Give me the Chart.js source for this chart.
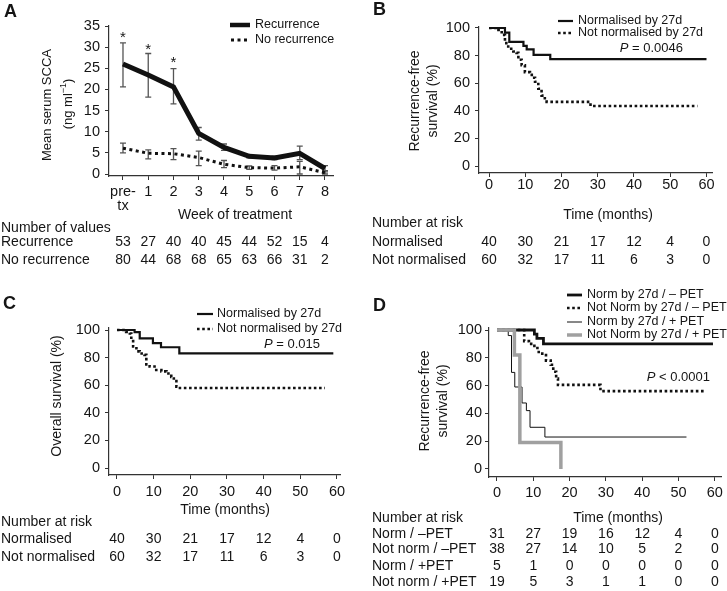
<!DOCTYPE html>
<html>
<head>
<meta charset="utf-8">
<script src="https://cdn.jsdelivr.net/npm/chart.js@4.4.1/dist/chart.umd.min.js"></script>
<style>
  body { margin: 0; background: #fff; width: 727px; height: 591px; position: relative; overflow: hidden; }
  canvas { position: absolute; }
</style>
</head>
<body>
<canvas id="cA" width="360" height="290" style="left:0;top:0"></canvas>
<canvas id="cB" width="367" height="290" style="left:360px;top:0"></canvas>
<canvas id="cC" width="360" height="311" style="left:0;top:280px"></canvas>
<canvas id="cD" width="367" height="311" style="left:360px;top:280px"></canvas>
<script>
// ---- panel A: serum SCCA by week ----
const weekLabels = [['pre-', 'tx'], '1', '2', '3', '4', '5', '6', '7', '8'];
const recurrenceMean = [26.0, 23.4, 20.6, 9.6, 6.3, 4.2, 3.8, 4.9, 1.3];
const recurrenceLow = [20.6, 18.2, 16.6, 8.0, 5.6, 3.8, 3.4, 3.4, 0.5];
const recurrenceHigh = [31.0, 28.5, 24.9, 11.0, 7.1, 4.6, 4.2, 6.6, 2.0];
const noRecMean = [6.1, 4.9, 4.8, 3.9, 2.3, 1.5, 1.4, 1.7, 0.3];
const noRecLow = [5.0, 3.6, 3.4, 2.0, 1.5, 1.1, 0.9, 0.0, 0.0];
const noRecHigh = [7.3, 5.7, 6.0, 5.4, 3.2, 1.9, 2.0, 3.0, 0.8];
const starWeeks = [0, 1, 2];
const starLevels = [33.2, 30.3, 27.3];
const recurrenceN = [53, 27, 40, 40, 45, 44, 52, 15, 4];
const noRecN = [80, 44, 68, 68, 65, 63, 66, 31, 2];
const aYTicks = [0, 5, 10, 15, 20, 25, 30, 35];

// ---- Kaplan-Meier panels ----
const kmXTicks = [0, 10, 20, 30, 40, 50, 60];
const kmYTicks = [0, 20, 40, 60, 80, 100];

const bNormTime = [0, 4.4, 5.6, 9.5, 10.4, 12.3, 16.9, 60];
const bNormSurv = [100, 96.6, 90, 87, 84.5, 80.5, 77.5, 77.5];
const bNotTime = [0, 2.6, 3.5, 4.4, 5.3, 6.7, 7.6, 8.1, 9.0, 9.9, 11.3, 11.8, 12.7, 13.6, 14.5, 15.4, 15.9, 28.0, 57.5];
const bNotSurv = [100, 98.5, 95, 89, 85, 83, 82, 77, 73, 68, 67, 64, 61, 56, 51, 48, 46.5, 43.5, 43.5];
const bRiskNorm = [40, 30, 21, 17, 12, 4, 0];
const bRiskNot = [60, 32, 17, 11, 6, 3, 0];

const cNormTime = [0, 4.8, 6.2, 9.8, 12.0, 17.0, 59];
const cNormSurv = [100, 98.5, 94, 90.5, 87.5, 83, 83];
const cNotTime = [0, 2.5, 3.5, 3.9, 4.4, 5.3, 6.2, 7.5, 8.0, 8.9, 10.7, 12.1, 13.5, 14.8, 15.5, 16.2, 16.6, 56.7];
const cNotSurv = [100, 98.5, 97.5, 93, 88, 84.5, 83, 82, 75, 73.5, 71, 70, 68.5, 66, 63, 59, 58, 58];
const cRiskNorm = [40, 30, 21, 17, 12, 4, 0];
const cRiskNot = [60, 32, 17, 11, 6, 3, 0];

const dNormNegTime = [0, 10.3, 11.0, 12.8, 59.5];
const dNormNegSurv = [100, 97, 94, 90, 90];
const dNotNegTime = [0, 7.5, 8.8, 10.3, 11.5, 13.5, 14.8, 15.5, 16.3, 16.8, 28.5, 57.3];
const dNotNegSurv = [100, 92, 90, 87, 83, 78, 75, 70, 65, 60.5, 56, 56];
const dNormPosTime = [0, 3.1, 4.0, 4.9, 6.9, 8.1, 9.1, 13.2, 52.2];
const dNormPosSurv = [100, 96, 69.5, 59, 47.5, 42, 30, 23, 23];
const dNotPosTime = [0, 4.8, 6.3, 17.6];
const dNotPosSurv = [100, 82, 19, 0];
const dRiskNormNeg = [31, 27, 19, 16, 12, 4, 0];
const dRiskNotNeg = [38, 27, 14, 10, 5, 2, 0];
const dRiskNormPos = [5, 1, 0, 0, 0, 0, 0];
const dRiskNotPos = [19, 5, 3, 1, 1, 0, 0];

const FONT = '"Liberation Sans", Arial, Helvetica, sans-serif';
const INK = '#151515';
const AXIS = '#333';

const sRec = { color: '#111', width: 5, dash: [] };
const sNoRec = { color: '#111', width: 3, dash: [3, 3.5] };
const sSolid = { color: '#111', width: 2.2, dash: [] };
const sDot = { color: '#111', width: 2.6, dash: [2.6, 2.6] };
const sThick = { color: '#111', width: 2.8, dash: [] };
const sThin = { color: '#111', width: 1, dash: [] };
const sGrey = { color: '#a0a0a0', width: 3.5, dash: [] };

function points(xs, ys) {
  return xs.map((x, i) => ({ x: x, y: ys[i] }));
}

function lineSet(xs, ys, st, stepped) {
  return {
    data: points(xs, ys),
    borderColor: st.color,
    borderWidth: st.width,
    borderDash: st.dash,
    stepped: stepped,
    tension: 0,
    pointRadius: 0,
    fill: false
  };
}

function axisOpts(min, max, ticks, extent, isX, pad, labels, lh) {
  return {
    type: 'linear',
    min: min,
    max: max,
    afterFit: s => { if (isX) s.height = extent; else s.width = extent; },
    afterBuildTicks: s => { s.ticks = ticks.map(v => ({ value: v })); },
    grid: { display: true, drawOnChartArea: false, drawTicks: true, tickLength: 4, color: AXIS, lineWidth: 1 },
    border: { display: true, color: AXIS, width: 1.2 },
    ticks: {
      color: INK, padding: pad, autoSkip: false, maxRotation: 0,
      font: { family: FONT, size: 14.5, lineHeight: lh || 1.15 },
      callback: (v, i) => labels ? labels[i] : String(v)
    }
  };
}

function drawRich(ctx, parts, x, y, align) {
  let w = 0;
  parts.forEach(p => { ctx.font = p.font; w += ctx.measureText(p.t).width; });
  let cx = align === 'right' ? x - w : align === 'center' ? x - w / 2 : x;
  ctx.textAlign = 'left';
  parts.forEach(p => {
    ctx.font = p.font;
    ctx.fillText(p.t, cx, y + (p.dy || 0));
    cx += ctx.measureText(p.t).width;
  });
}

function panelPlugin(p) {
  return {
    id: 'panel' + p.letter,
    beforeDatasetsDraw(chart) {
      if (!p.errorBars) return;
      const ctx = chart.ctx, xs = chart.scales.x, ys = chart.scales.y;
      ctx.save();
      ctx.strokeStyle = '#555';
      ctx.lineWidth = 1.3;
      p.errorBars.forEach(eb => {
        eb.low.forEach((lo, i) => {
          const x = xs.getPixelForValue(i);
          const y1 = ys.getPixelForValue(lo), y2 = ys.getPixelForValue(eb.high[i]);
          ctx.beginPath();
          ctx.moveTo(x, y1); ctx.lineTo(x, y2);
          ctx.moveTo(x - 3, y1); ctx.lineTo(x + 3, y1);
          ctx.moveTo(x - 3, y2); ctx.lineTo(x + 3, y2);
          ctx.stroke();
        });
      });
      ctx.restore();
    },
    afterDraw(chart) {
      const ctx = chart.ctx, ox = p.ox, oy = p.oy;
      const xs = chart.scales.x, ys = chart.scales.y;
      ctx.save();
      ctx.fillStyle = INK;
      ctx.textBaseline = 'middle';

      ctx.font = 'bold 18px ' + FONT;
      ctx.textAlign = 'left';
      ctx.fillText(p.letter, p.letterPos[0] - ox, p.letterPos[1] - oy);

      p.yTitle.forEach(t => {
        ctx.save();
        ctx.translate(t.x - ox, t.y - oy);
        ctx.rotate(-Math.PI / 2);
        drawRich(ctx, t.parts, 0, 0, 'center');
        ctx.restore();
      });

      ctx.font = '14px ' + FONT;
      ctx.textAlign = 'center';
      ctx.fillText(p.xTitle.text, p.xTitle.x - ox, p.xTitle.y - oy);

      p.legend.forEach(it => {
        ctx.save();
        ctx.strokeStyle = it.st.color;
        ctx.lineWidth = it.lw || it.st.width;
        ctx.setLineDash(it.st.dash);
        ctx.beginPath();
        ctx.moveTo(it.x1 - ox, it.y - oy);
        ctx.lineTo(it.x2 - ox, it.y - oy);
        ctx.stroke();
        ctx.restore();
        ctx.font = '12.5px ' + FONT;
        ctx.textAlign = 'left';
        ctx.fillText(it.text, it.tx - ox, it.y - oy);
      });

      if (p.pval) {
        drawRich(ctx, [
          { t: 'P', font: 'italic 13px ' + FONT },
          { t: p.pval.text, font: '13px ' + FONT }
        ], p.pval.x - ox, p.pval.y - oy, 'right');
      }

      if (p.stars) {
        ctx.font = '15px ' + FONT;
        ctx.textAlign = 'center';
        ctx.textBaseline = 'alphabetic';
        p.stars.weeks.forEach((w, i) => {
          ctx.fillText('*', xs.getPixelForValue(w), ys.getPixelForValue(p.stars.levels[i]) + 8.5);
        });
        ctx.textBaseline = 'middle';
      }

      const tb = p.table;
      ctx.font = '14px ' + FONT;
      ctx.textAlign = 'left';
      ctx.fillText(tb.header, tb.labelX - ox, tb.headerY - oy);
      tb.rows.forEach(r => {
        ctx.textAlign = 'left';
        ctx.fillText(r.label, tb.labelX - ox, r.y - oy);
        ctx.textAlign = 'center';
        r.values.forEach((v, i) => {
          ctx.fillText(String(v), xs.getPixelForValue(tb.cols[i]), r.y - oy);
        });
      });
      ctx.restore();
    }
  };
}

function makeChart(id, datasets, g, panel) {
  return new Chart(document.getElementById(id), {
    type: 'line',
    data: { datasets: datasets },
    options: {
      responsive: false,
      animation: false,
      events: [],
      layout: { padding: { left: 0, top: g.top, right: g.w - g.right, bottom: 0 } },
      plugins: { legend: { display: false }, tooltip: { enabled: false } },
      scales: {
        x: axisOpts(g.xMin, g.xMax, g.xTicks, g.h - g.bottom, true, g.xPad, g.xLabels, g.xLh),
        y: axisOpts(g.yMin, g.yMax, g.yTicks, g.left, false, g.yPad)
      }
    },
    plugins: [panelPlugin(panel)]
  });
}

const weekIdx = weekLabels.map((l, i) => i);
const titleFont = '14px ' + FONT;

// Panel A
makeChart('cA', [
  lineSet(weekIdx, recurrenceMean, sRec, false),
  lineSet(weekIdx, noRecMean, sNoRec, false)
], {
  w: 360, h: 290, left: 109, right: 333, top: 26, bottom: 176,
  xMin: -0.554, xMax: 8.317, yMin: -0.47, yMax: 35,
  xTicks: weekIdx, yTicks: aYTicks, xLabels: weekLabels, xLh: 0.98, xPad: 4.5, yPad: 5
}, {
  letter: 'A', ox: 0, oy: 0, letterPos: [4, 12],
  yTitle: [
    { x: 47, y: 105, parts: [{ t: 'Mean serum SCCA', font: '13px ' + FONT }] },
    { x: 68, y: 104, parts: [
      { t: '(ng ml', font: '13px ' + FONT },
      { t: '\u22121', font: '9px ' + FONT, dy: -4 },
      { t: ')', font: '13px ' + FONT }
    ] }
  ],
  xTitle: { text: 'Week of treatment', x: 235, y: 215 },
  legend: [
    { st: sRec, lw: 4.5, x1: 230, x2: 250, y: 25, tx: 255, text: 'Recurrence' },
    { st: sNoRec, x1: 231, x2: 248, y: 40, tx: 255, text: 'No recurrence' }
  ],
  errorBars: [
    { low: recurrenceLow, high: recurrenceHigh },
    { low: noRecLow, high: noRecHigh }
  ],
  stars: { weeks: starWeeks, levels: starLevels },
  table: {
    header: 'Number of values', headerY: 228, labelX: 1, cols: weekIdx,
    rows: [
      { label: 'Recurrence', y: 242, values: recurrenceN },
      { label: 'No recurrence', y: 260, values: noRecN }
    ]
  }
});

// Panel B
makeChart('cB', [
  lineSet(bNormTime, bNormSurv, sSolid, true),
  lineSet(bNotTime, bNotSurv, sDot, true)
], {
  w: 367, h: 290, left: 119, right: 352, top: 27, bottom: 173,
  xMin: -2.76, xMax: 61.52, yMin: -5.07, yMax: 100.72,
  xTicks: kmXTicks, yTicks: kmYTicks, xPad: 0, yPad: 5
}, {
  letter: 'B', ox: 360, oy: 0, letterPos: [373, 10],
  yTitle: [
    { x: 415, y: 101, parts: [{ t: 'Recurrence-free', font: titleFont }] },
    { x: 433, y: 101, parts: [{ t: 'survival (%)', font: titleFont }] }
  ],
  xTitle: { text: 'Time (months)', x: 608, y: 215 },
  legend: [
    { st: sSolid, x1: 558, x2: 573, y: 21, tx: 578, text: 'Normalised by 27d' },
    { st: sDot, x1: 558, x2: 573, y: 33, tx: 578, text: 'Not normalised by 27d' }
  ],
  pval: { text: ' = 0.0046', x: 683, y: 48 },
  table: {
    header: 'Number at risk', headerY: 223, labelX: 372, cols: kmXTicks,
    rows: [
      { label: 'Normalised', y: 242, values: bRiskNorm },
      { label: 'Not normalised', y: 260, values: bRiskNot }
    ]
  }
});

// Panel C
makeChart('cC', [
  lineSet(cNormTime, cNormSurv, sSolid, true),
  lineSet(cNotTime, cNotSurv, sDot, true)
], {
  w: 360, h: 311, left: 109, right: 340, top: 48, bottom: 195,
  xMin: -2.18, xMax: 60.82, yMin: -5.07, yMax: 101.45,
  xTicks: kmXTicks, yTicks: kmYTicks, xPad: 5, yPad: 5
}, {
  letter: 'C', ox: 0, oy: 280, letterPos: [3, 304],
  yTitle: [
    { x: 57, y: 396, parts: [{ t: 'Overall survival (%)', font: titleFont }] }
  ],
  xTitle: { text: 'Time (months)', x: 225, y: 510 },
  legend: [
    { st: sSolid, x1: 197, x2: 213, y: 314, tx: 217, text: 'Normalised by 27d' },
    { st: sDot, x1: 197, x2: 213, y: 329, tx: 217, text: 'Not normalised by 27d' }
  ],
  pval: { text: ' = 0.015', x: 320, y: 344 },
  table: {
    header: 'Number at risk', headerY: 522, labelX: 1, cols: kmXTicks,
    rows: [
      { label: 'Normalised', y: 539, values: cRiskNorm },
      { label: 'Not normalised', y: 557, values: cRiskNot }
    ]
  }
});

// Panel D (grey dataset first so it is drawn on top)
makeChart('cD', [
  lineSet(dNotPosTime, dNotPosSurv, sGrey, true),
  lineSet(dNormNegTime, dNormNegSurv, sThick, true),
  lineSet(dNotNegTime, dNotNegSurv, sDot, true),
  lineSet(dNormPosTime, dNormPosSurv, sThin, true)
], {
  w: 367, h: 311, left: 129, right: 362, top: 48, bottom: 197,
  xMin: -2.2, xMax: 61.93, yMin: -5.76, yMax: 101.44,
  xTicks: kmXTicks, yTicks: kmYTicks, xPad: 4, yPad: 3
}, {
  letter: 'D', ox: 360, oy: 280, letterPos: [373, 306],
  yTitle: [
    { x: 425, y: 401, parts: [{ t: 'Recurrence-free', font: titleFont }] },
    { x: 443, y: 401, parts: [{ t: 'survival (%)', font: titleFont }] }
  ],
  xTitle: { text: 'Time (months)', x: 618, y: 518 },
  legend: [
    { st: sThick, x1: 567, x2: 582, y: 295, tx: 587, text: 'Norm by 27d / \u2013 PET' },
    { st: sDot, x1: 567, x2: 582, y: 308, tx: 587, text: 'Not Norm by 27d / \u2013 PET' },
    { st: sThin, x1: 567, x2: 582, y: 322, tx: 587, text: 'Norm by 27d / + PET' },
    { st: sGrey, x1: 567, x2: 582, y: 335, tx: 587, text: 'Not Norm by 27d / + PET' }
  ],
  pval: { text: ' < 0.0001', x: 710, y: 377 },
  table: {
    header: 'Number at risk', headerY: 518, labelX: 372, cols: kmXTicks,
    rows: [
      { label: 'Norm / \u2013PET', y: 534, values: dRiskNormNeg },
      { label: 'Not norm / \u2013PET', y: 549, values: dRiskNotNeg },
      { label: 'Norm / +PET', y: 566, values: dRiskNormPos },
      { label: 'Not norm / +PET', y: 582, values: dRiskNotPos }
    ]
  }
});
</script>
</body>
</html>
